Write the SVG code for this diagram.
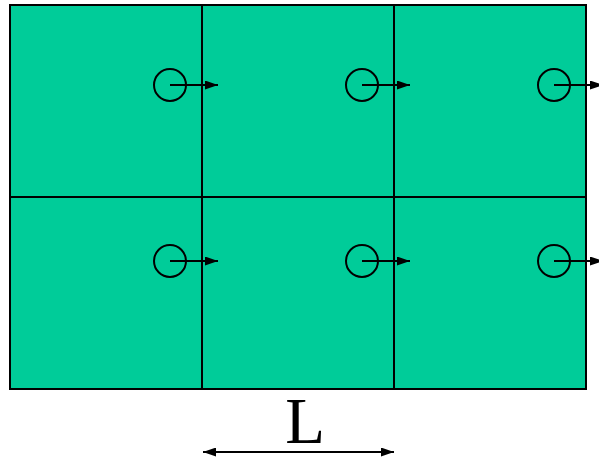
<svg xmlns="http://www.w3.org/2000/svg" width="599" height="463" viewBox="0 0 599 463">
<defs>
<marker id="ah" markerWidth="13" markerHeight="9" refX="13" refY="4.5" orient="auto" markerUnits="userSpaceOnUse">
<path d="M0,0 L13,4.5 L0,9 Z" fill="#000"/>
</marker>
<marker id="ahs" markerWidth="13" markerHeight="9" refX="0" refY="4.5" orient="auto" markerUnits="userSpaceOnUse">
<path d="M13,0 L0,4.5 L13,9 Z" fill="#000"/>
</marker>
</defs>
<style>
.cell{fill:#00cc99;stroke:#000;stroke-width:2}
.c{fill:none;stroke:#000;stroke-width:2}
.a{stroke:#000;stroke-width:2;fill:none}
</style>
<g id="grid">
<rect class="cell" x="10" y="5" width="576" height="384"/>
<line class="a" x1="202" y1="5" x2="202" y2="389"/>
<line class="a" x1="394" y1="5" x2="394" y2="389"/>
<line class="a" x1="10" y1="197" x2="586" y2="197"/>
</g>
<g id="node-1"><circle class="c" cx="170" cy="85" r="16"/></g>
<g id="node-2"><circle class="c" cx="362" cy="85" r="16"/></g>
<g id="node-3"><circle class="c" cx="554" cy="85" r="16"/></g>
<g id="node-4"><circle class="c" cx="170" cy="261" r="16"/></g>
<g id="node-5"><circle class="c" cx="362" cy="261" r="16"/></g>
<g id="node-6"><circle class="c" cx="554" cy="261" r="16"/></g>
<g id="connectors">
<line class="a" x1="170" y1="85" x2="218" y2="85" marker-end="url(#ah)"/>
<line class="a" x1="362" y1="85" x2="410" y2="85" marker-end="url(#ah)"/>
<line class="a" x1="554" y1="85" x2="603" y2="85" marker-end="url(#ah)"/>
<line class="a" x1="170" y1="261" x2="218" y2="261" marker-end="url(#ah)"/>
<line class="a" x1="362" y1="261" x2="410" y2="261" marker-end="url(#ah)"/>
<line class="a" x1="554" y1="261" x2="603" y2="261" marker-end="url(#ah)"/>
<line class="a" x1="203" y1="452" x2="394" y2="452" marker-start="url(#ahs)" marker-end="url(#ah)"/>
</g>
<text x="305" y="443" font-family="Liberation Serif, serif" font-size="65" text-anchor="middle">L</text>
</svg>
